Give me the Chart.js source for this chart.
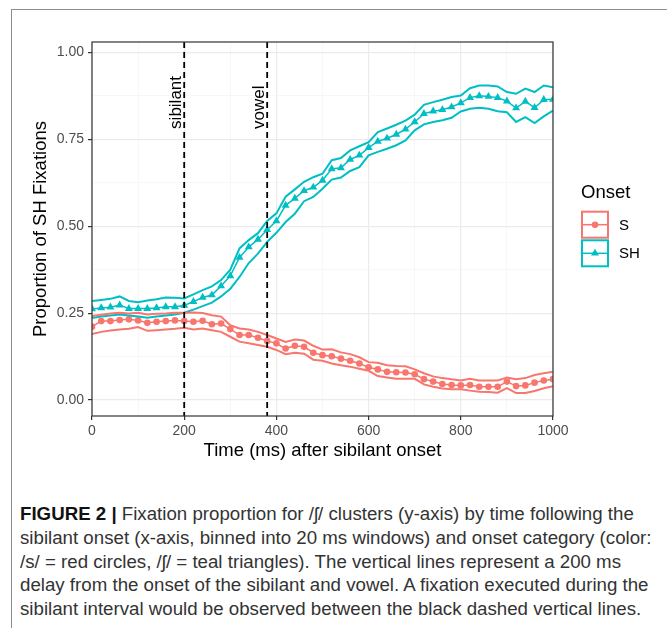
<!DOCTYPE html>
<html>
<head>
<meta charset="utf-8">
<script src="https://cdn.jsdelivr.net/npm/chart.js@4"></script>
<style>
  body { margin: 0; background: #fff; width: 667px; height: 628px; overflow: hidden; position: relative;
         font-family: "Liberation Sans", Arial, sans-serif; }
  #frame { position: absolute; left: 11px; top: 9px; width: 670px; height: 630px;
           border-top: 1.5px solid #8c8c8c; border-left: 1.5px solid #8c8c8c; }
  #chart { position: absolute; left: 0; top: 0; }
  #caption { position: absolute; left: 20px; top: 502px; font-size: 18.7px; line-height: 23.8px;
             color: #333; white-space: nowrap; }
  #caption b { color: #111; }
</style>
</head>
<body>
<div id="frame"></div>
<canvas id="chart" width="667" height="470"></canvas>
<div id="caption">
  <div><b>FIGURE 2 |</b> Fixation proportion for /ʃ/ clusters (y-axis) by time following the</div>
  <div>sibilant onset (x-axis, binned into 20 ms windows) and onset category (color:</div>
  <div>/s/ = red circles, /ʃ/ = teal triangles). The vertical lines represent a 200 ms</div>
  <div>delay from the onset of the sibilant and vowel. A fixation executed during the</div>
  <div>sibilant interval would be observed between the black dashed vertical lines.</div>
</div>
<script>
// time bins (ms after sibilant onset)
const times = [0, 20, 40, 60, 80, 100, 120, 140, 160, 180,
  200, 220, 240, 260, 280, 300, 320, 340, 360, 380,
  400, 420, 440, 460, 480, 500, 520, 540, 560, 580,
  600, 620, 640, 660, 680, 700, 720, 740, 760, 780,
  800, 820, 840, 860, 880, 900, 920, 940, 960, 980, 1000];

// onset S (red circles)
const sMean = [0.211, 0.227, 0.227, 0.23, 0.232, 0.229, 0.222, 0.225, 0.227, 0.229,
  0.227, 0.225, 0.228, 0.218, 0.22, 0.204, 0.187, 0.187, 0.179, 0.17,
  0.163, 0.148, 0.156, 0.153, 0.136, 0.129, 0.126, 0.119, 0.113, 0.105,
  0.094, 0.088, 0.081, 0.08, 0.079, 0.074, 0.06, 0.053, 0.046, 0.043,
  0.042, 0.043, 0.038, 0.038, 0.038, 0.053, 0.04, 0.042, 0.05, 0.056, 0.06];
const sUpper = [0.242, 0.245, 0.249, 0.251, 0.249, 0.251, 0.246, 0.248, 0.249, 0.251,
  0.251, 0.252, 0.25, 0.244, 0.24, 0.215, 0.206, 0.203, 0.196, 0.187,
  0.177, 0.167, 0.174, 0.171, 0.156, 0.145, 0.146, 0.137, 0.132, 0.123,
  0.109, 0.107, 0.1, 0.098, 0.097, 0.088, 0.077, 0.068, 0.063, 0.06,
  0.056, 0.061, 0.056, 0.056, 0.056, 0.065, 0.06, 0.063, 0.072, 0.077, 0.081];
const sLower = [0.19, 0.196, 0.2, 0.203, 0.205, 0.21, 0.199, 0.201, 0.203, 0.205,
  0.208, 0.203, 0.206, 0.201, 0.196, 0.182, 0.168, 0.163, 0.158, 0.153,
  0.144, 0.132, 0.136, 0.133, 0.116, 0.113, 0.105, 0.1, 0.096, 0.09,
  0.084, 0.069, 0.065, 0.061, 0.061, 0.061, 0.045, 0.038, 0.033, 0.031,
  0.031, 0.027, 0.024, 0.023, 0.021, 0.034, 0.02, 0.02, 0.026, 0.034, 0.04];

// onset SH (teal triangles)
const shMean = [0.262, 0.265, 0.267, 0.273, 0.263, 0.263, 0.263, 0.265, 0.268, 0.268,
  0.272, 0.283, 0.295, 0.302, 0.328, 0.357, 0.41, 0.44, 0.462, 0.49,
  0.515, 0.56, 0.58, 0.602, 0.612, 0.632, 0.665, 0.668, 0.692, 0.704,
  0.726, 0.744, 0.753, 0.764, 0.779, 0.8, 0.824, 0.831, 0.835, 0.843,
  0.855, 0.87, 0.875, 0.873, 0.87, 0.86, 0.84, 0.859, 0.841, 0.864, 0.865];
const shUpper = [0.285, 0.288, 0.291, 0.298, 0.285, 0.281, 0.286, 0.29, 0.295, 0.294,
  0.292, 0.304, 0.316, 0.327, 0.345, 0.375, 0.436, 0.46, 0.48, 0.515,
  0.537, 0.585, 0.606, 0.628, 0.641, 0.651, 0.69, 0.696, 0.718, 0.73,
  0.742, 0.771, 0.781, 0.792, 0.804, 0.821, 0.849, 0.857, 0.864, 0.872,
  0.876, 0.897, 0.905, 0.905, 0.902, 0.886, 0.881, 0.896, 0.886, 0.905, 0.9];
const shLower = [0.236, 0.24, 0.243, 0.246, 0.243, 0.24, 0.237, 0.24, 0.243, 0.246,
  0.251, 0.26, 0.27, 0.28, 0.298, 0.32, 0.354, 0.394, 0.421, 0.455,
  0.481, 0.512, 0.536, 0.572, 0.584, 0.608, 0.634, 0.64, 0.659, 0.67,
  0.704, 0.714, 0.723, 0.733, 0.747, 0.776, 0.793, 0.8, 0.805, 0.812,
  0.83, 0.838, 0.841, 0.838, 0.831, 0.828, 0.8, 0.814, 0.797, 0.816, 0.833];

const seriesNames = ['S', 'SH'];
const seriesColors = ['#F8766D', '#00BFC4'];
const seriesShapes = ['circle', 'triangle'];

const xTicks = [0, 200, 400, 600, 800, 1000];
const xMinor = [100, 300, 500, 700, 900];
const yTicks = [0, 0.25, 0.5, 0.75, 1];
const yMinor = [0.125, 0.375, 0.625, 0.875];

const eventTimes = [200, 380];
const eventLabels = ['sibilant', 'vowel'];

const FONT = '"Liberation Sans", Arial, sans-serif';

function pts(vals) {
  return times.map((t, i) => ({ x: t, y: vals[i] }));
}
function bandSet(vals, color) {
  return { data: pts(vals), borderColor: color, borderWidth: 2, pointRadius: 0, fill: false };
}
function meanSet(vals, color, shape, r) {
  return { data: pts(vals), borderColor: color, borderWidth: 1.5,
    pointStyle: shape, pointRadius: r, pointBorderWidth: 0, pointBackgroundColor: color };
}

const datasets = [
  bandSet(sUpper, seriesColors[0]), bandSet(sLower, seriesColors[0]),
  bandSet(shUpper, seriesColors[1]), bandSet(shLower, seriesColors[1]),
  meanSet(sMean, seriesColors[0], seriesShapes[0], 3.3),
  meanSet(shMean, seriesColors[1], seriesShapes[1], 4.6)
];

const isMajor = (list, v) => list.some(t => Math.abs(t - v) < 1e-9);

const overlay = {
  id: 'overlay',
  afterDatasetsDraw(chart) {
    const { ctx, chartArea: a, scales: { x, y } } = chart;
    ctx.save();
    // dashed event lines
    ctx.strokeStyle = '#000';
    ctx.lineWidth = 1.8;
    ctx.setLineDash([6, 4]);
    eventTimes.forEach(t => {
      const px = x.getPixelForValue(t);
      ctx.beginPath();
      ctx.moveTo(px, a.top);
      ctx.lineTo(px, a.bottom);
      ctx.stroke();
    });
    ctx.setLineDash([]);
    // rotated labels
    ctx.fillStyle = '#000';
    ctx.font = '17px ' + FONT;
    ctx.textAlign = 'left';
    ctx.textBaseline = 'alphabetic';
    eventTimes.forEach((t, i) => {
      ctx.save();
      ctx.translate(x.getPixelForValue(t) - 3.5, y.getPixelForValue(0.78));
      ctx.rotate(-Math.PI / 2);
      ctx.fillText(eventLabels[i], 0, 0);
      ctx.restore();
    });
    // panel border
    ctx.strokeStyle = '#333';
    ctx.lineWidth = 1.2;
    ctx.strokeRect(a.left, a.top, a.right - a.left, a.bottom - a.top);
    ctx.restore();
  },
  afterDraw(chart) {
    const ctx = chart.ctx;
    ctx.save();
    ctx.fillStyle = '#000';
    ctx.font = '18.5px ' + FONT;
    ctx.textBaseline = 'middle';
    ctx.textAlign = 'left';
    ctx.fillText('Onset', 581, 193);
    seriesNames.forEach((name, i) => {
      const top = 211.7 + i * 28.6;
      const cy = top + 13;
      ctx.strokeStyle = seriesColors[i];
      ctx.lineWidth = 2;
      ctx.strokeRect(582, top, 26, 26);
      ctx.lineWidth = 1.5;
      ctx.beginPath();
      ctx.moveTo(582, cy);
      ctx.lineTo(608, cy);
      ctx.stroke();
      ctx.fillStyle = seriesColors[i];
      Chart.helpers.drawPoint(ctx, { pointStyle: seriesShapes[i], radius: i ? 4.6 : 3.3, borderWidth: 0, rotation: 0 }, 595, cy);
      ctx.fillStyle = '#000';
      ctx.font = '15px ' + FONT;
      ctx.fillText(name, 619, cy + 1);
    });
    ctx.restore();
  }
};

new Chart(document.getElementById('chart'), {
  type: 'line',
  data: { datasets },
  options: {
    responsive: false,
    animation: false,
    devicePixelRatio: 1,
    layout: { padding: { top: 42, right: 114, left: 0, bottom: 0 } },
    plugins: { legend: { display: false }, tooltip: { enabled: false } },
    scales: {
      x: {
        type: 'linear', min: 0, max: 1000,
        afterBuildTicks: s => { s.ticks = xTicks.concat(xMinor).sort((a, b) => a - b).map(v => ({ value: v })); },
        afterFit: s => { s.height = 54; },
        ticks: {
          callback: v => isMajor(xTicks, v) ? String(v) : '',
          color: '#4d4d4d', font: { size: 14, family: FONT }, padding: 3,
          maxRotation: 0, autoSkip: false
        },
        grid: {
          color: c => isMajor(xTicks, c.tick.value) ? '#ebebeb' : '#f4f4f4',
          lineWidth: c => isMajor(xTicks, c.tick.value) ? 1.2 : 0.7,
          tickLength: 4,
          tickColor: c => isMajor(xTicks, c.tick.value) ? '#333' : 'rgba(0,0,0,0)'
        },
        border: { display: false },
        title: { display: true, text: 'Time (ms) after sibilant onset', color: '#000',
          font: { size: 18.5, family: FONT }, padding: { top: 0, bottom: 8 } }
      },
      y: {
        type: 'linear', min: -0.046, max: 1.03,
        afterBuildTicks: s => { s.ticks = yTicks.concat(yMinor).sort((a, b) => a - b).map(v => ({ value: v })); },
        afterFit: s => { s.width = 92; },
        ticks: {
          callback: v => isMajor(yTicks, v) ? v.toFixed(2) : '',
          color: '#4d4d4d', font: { size: 14, family: FONT }, padding: 4, autoSkip: false
        },
        grid: {
          color: c => isMajor(yTicks, c.tick.value) ? '#ebebeb' : '#f4f4f4',
          lineWidth: c => isMajor(yTicks, c.tick.value) ? 1.2 : 0.7,
          tickLength: 4,
          tickColor: c => isMajor(yTicks, c.tick.value) ? '#333' : 'rgba(0,0,0,0)'
        },
        border: { display: false },
        title: { display: true, text: 'Proportion of SH Fixations', color: '#000',
          font: { size: 18.5, family: FONT }, padding: { top: 30, bottom: 0 } }
      }
    }
  },
  plugins: [overlay]
});
</script>
</body>
</html>
